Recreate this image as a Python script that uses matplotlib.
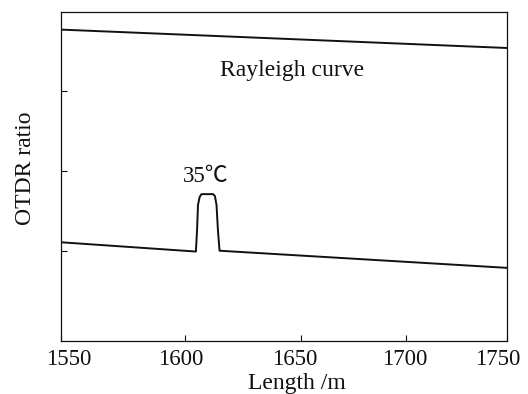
"""OTDR ratio along the fibre, 1550-1750 m, with the heated section at 35 C."""
import matplotlib
matplotlib.use("Agg")
import matplotlib.pyplot as plt
import matplotlib.transforms as mtransforms
import numpy as np

INK = "#111111"
SERIF = ["Liberation Serif", "Noto Sans CJK SC"]

# x tick values and where they sit along the axis (the original axis is not quite linear)
x_ticks = [1550, 1600, 1650, 1700, 1750]
x_tick_pos = [0.0, 124.0, 240.0, 345.0, 446.0]

# Rayleigh curve (upper trace)
rayleigh_x = [1550, 1750]
rayleigh_y = [3.77, 3.54]

# OTDR ratio trace with the heated bump
ratio_x = [1550, 1604.7, 1605.2, 1605.6, 1606.3, 1607.1, 1612.1, 1612.9,
           1613.6, 1614.2, 1614.9, 1615.1, 1750]
ratio_y = [1.11, 0.994, 1.26, 1.575, 1.675, 1.712, 1.712, 1.688,
           1.575, 1.26, 1.004, 1.004, 0.79]

y_ticks = [1, 2, 3]


def fwd(x):
    return np.interp(x, x_ticks, x_tick_pos)


def inv(p):
    return np.interp(p, x_tick_pos, x_ticks)


fig = plt.figure(figsize=(5.28, 3.94), dpi=100, facecolor="white")
ax = fig.add_axes([0.1155, 0.1345, 0.8447, 0.835])
ax.set_xscale("function", functions=(fwd, inv))

ax.plot(rayleigh_x, rayleigh_y, color=INK, lw=1.4)
ax.plot(ratio_x, ratio_y, color=INK, lw=1.4, solid_joinstyle="round")

ax.set_xlim(1550, 1750)
ax.set_ylim(-0.125, 3.99)
ax.set_xticks(x_ticks)
ax.set_xticklabels([str(v) for v in x_ticks])
ax.set_yticks(y_ticks)
ax.set_yticklabels([])
ax.tick_params(direction="in", length=4, width=0.8, colors=INK, pad=6)
# edge labels sit a little inside the frame in the original
shifts = [8, -4, -6, -1.5, -9]
for lb, dx in zip(ax.get_xticklabels(), shifts):
    lb.set_fontfamily(SERIF)
    lb.set_fontsize(16.5)
    lb.set_transform(lb.get_transform()
                     + mtransforms.ScaledTranslation(dx / 100, 0, fig.dpi_scale_trans))
for sp in ax.spines.values():
    sp.set_linewidth(0.9)
    sp.set_color(INK)

ax.set_xlabel("Length /m", fontsize=17, family=SERIF, color=INK)
ax.xaxis.set_label_coords(0.529, -0.097)
ax.set_ylabel("OTDR ratio", fontsize=17, family=SERIF, color=INK)
ax.yaxis.set_label_coords(-0.055, 0.526)

ax.text(1646, 3.26, "Rayleigh curve", fontsize=17, family=SERIF, color=INK,
        ha="center", va="center")
ax.text(1609, 1.93, "35℃", fontsize=16.5, family=SERIF, color=INK,
        ha="center", va="center")

fig.savefig("out.png", dpi=100, facecolor="white")
